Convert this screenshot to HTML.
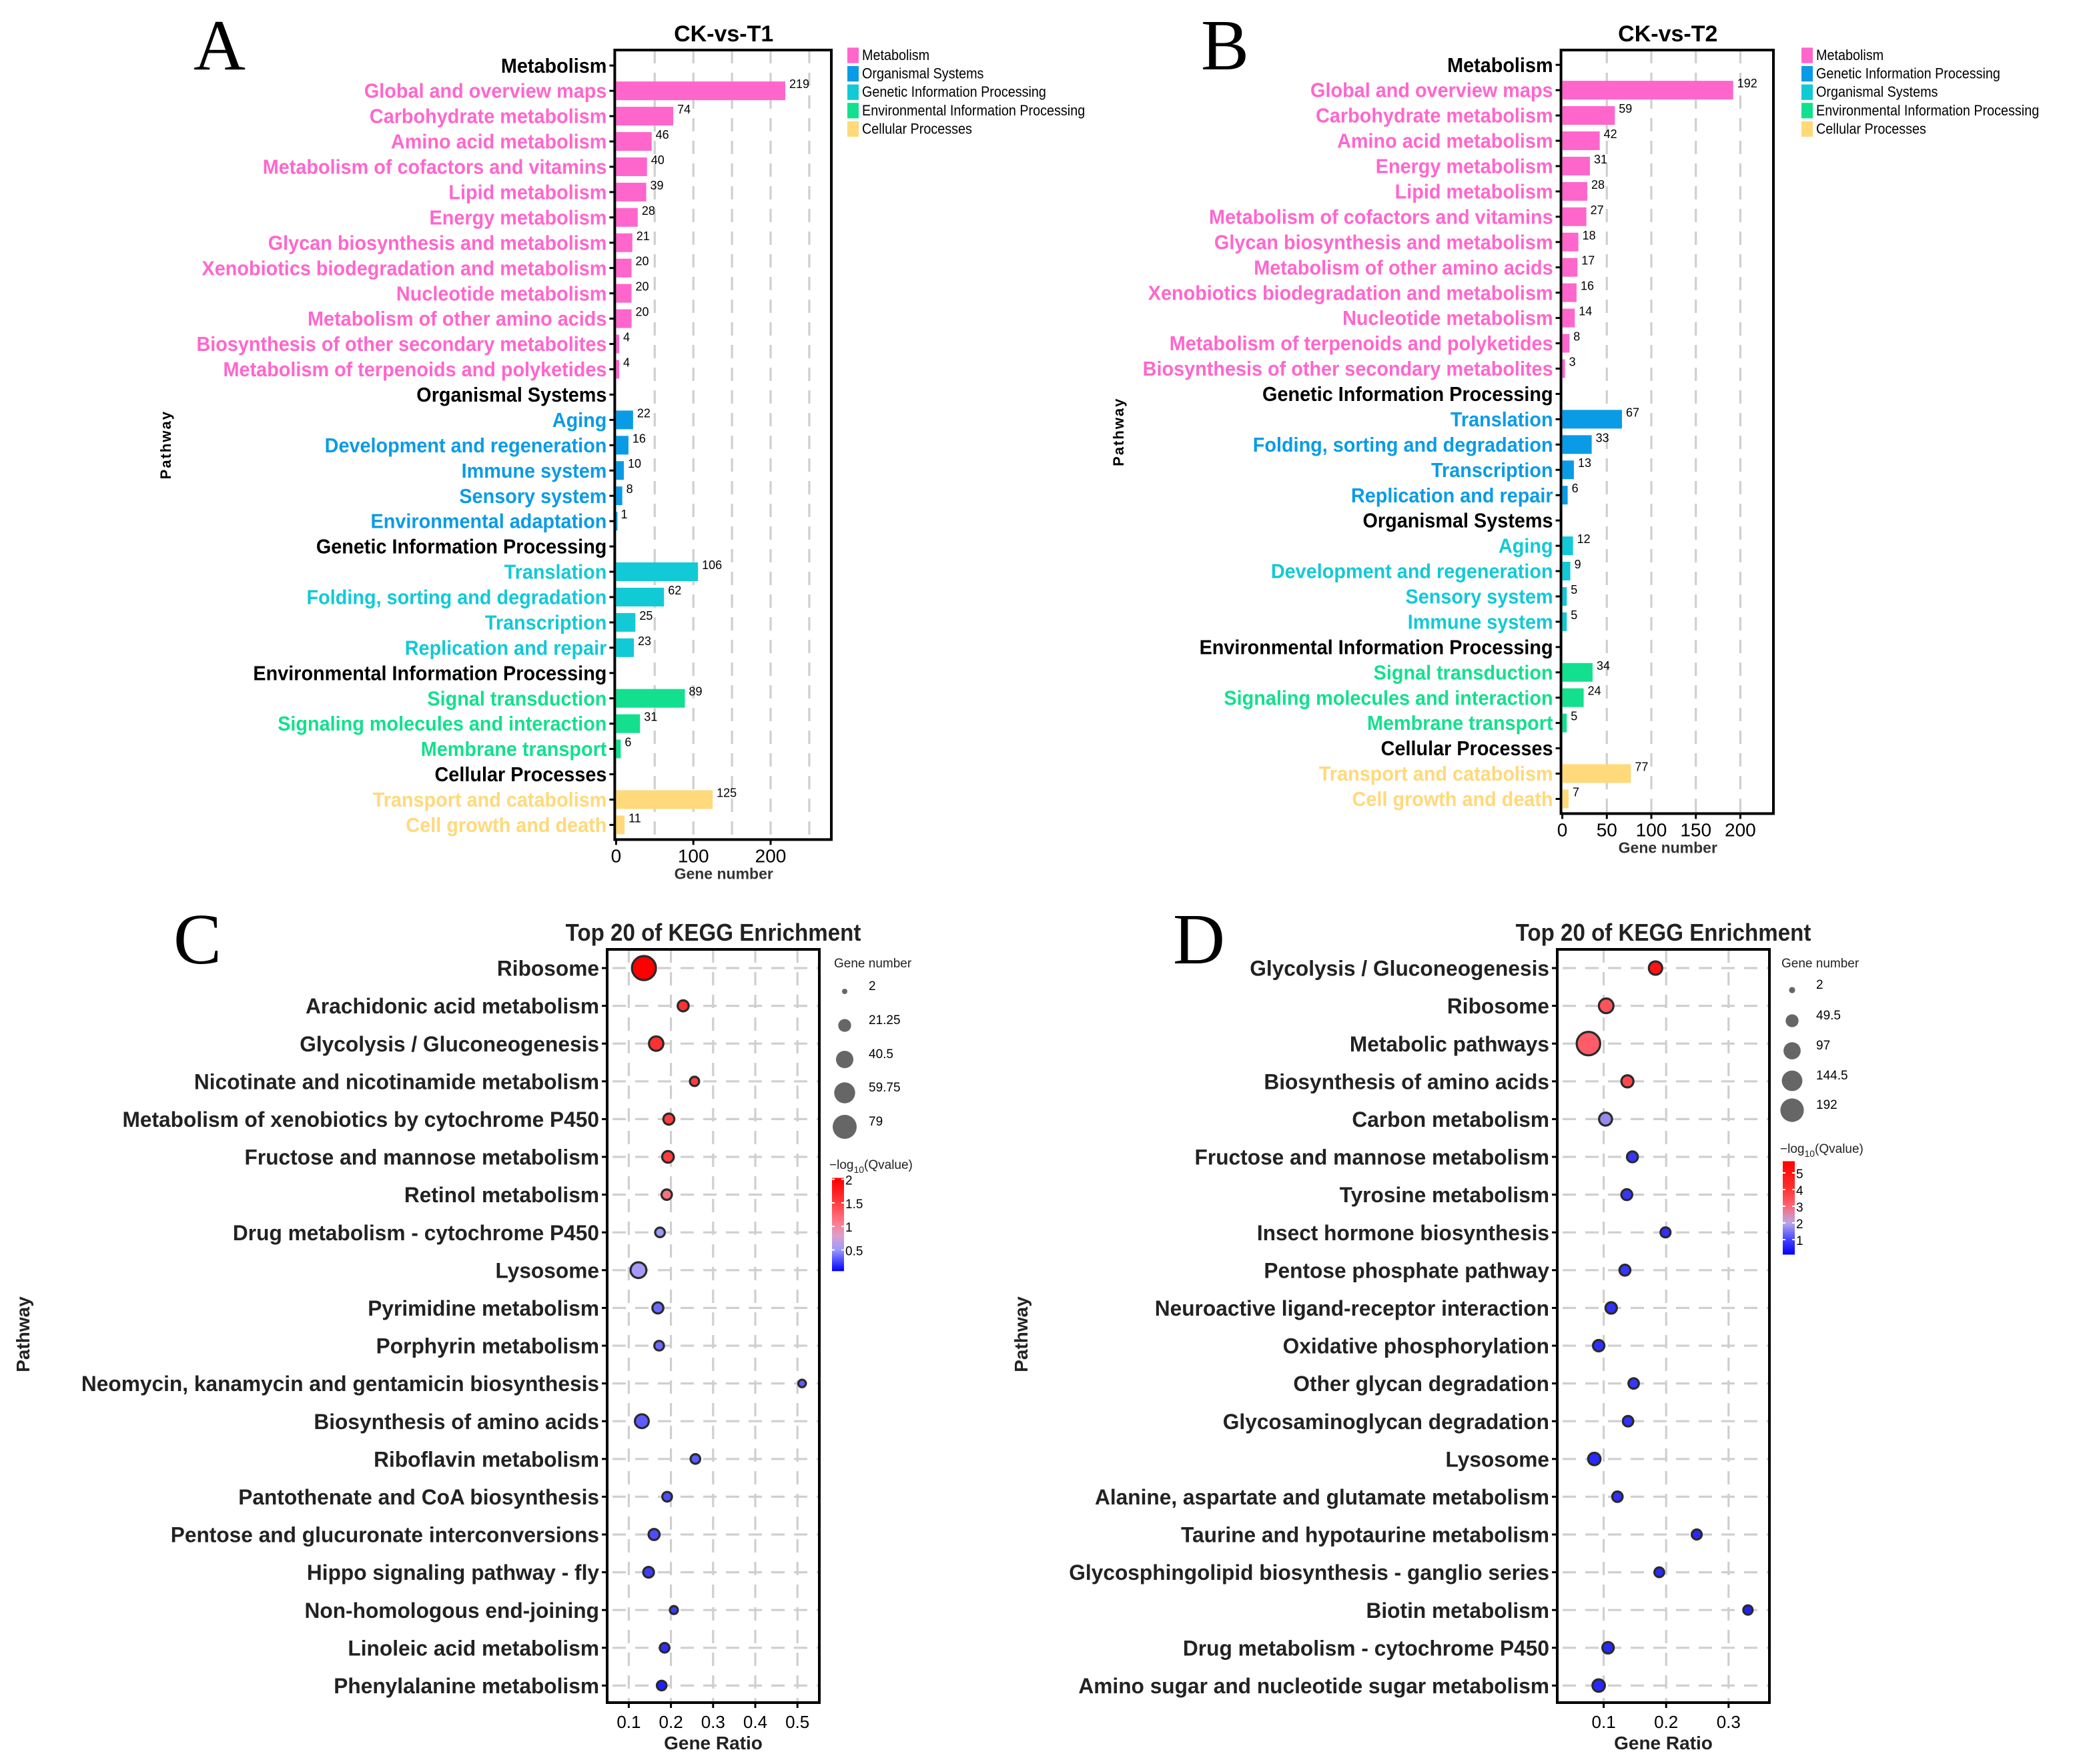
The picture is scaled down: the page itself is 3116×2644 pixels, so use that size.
<!DOCTYPE html>
<html><head><meta charset="utf-8"><style>
html,body{margin:0;padding:0;background:#fff;}
svg{display:block;}
text{font-family:"Liberation Sans",sans-serif;}
text.serif{font-family:"Liberation Serif",serif;}
</style></head><body>
<svg id="fig" xmlns="http://www.w3.org/2000/svg" width="3116" height="2644" viewBox="0 0 1558 1322"></svg>
<script>
// ---------- Panel A data ----------
const aLabels=["Metabolism","Global and overview maps","Carbohydrate metabolism","Amino acid metabolism","Metabolism of cofactors and vitamins","Lipid metabolism","Energy metabolism","Glycan biosynthesis and metabolism","Xenobiotics biodegradation and metabolism","Nucleotide metabolism","Metabolism of other amino acids","Biosynthesis of other secondary metabolites","Metabolism of terpenoids and polyketides","Organismal Systems","Aging","Development and regeneration","Immune system","Sensory system","Environmental adaptation","Genetic Information Processing","Translation","Folding, sorting and degradation","Transcription","Replication and repair","Environmental Information Processing","Signal transduction","Signaling molecules and interaction","Membrane transport","Cellular Processes","Transport and catabolism","Cell growth and death"];
const aValues=[null,219,74,46,40,39,28,21,20,20,20,4,4,null,22,16,10,8,1,null,106,62,25,23,null,89,31,6,null,125,11];
const aGroups=[0,0,0,0,0,0,0,0,0,0,0,0,0,1,1,1,1,1,1,2,2,2,2,2,3,3,3,3,4,4,4];
const aLegend=["Metabolism","Organismal Systems","Genetic Information Processing","Environmental Information Processing","Cellular Processes"];
const aTicks=[0,100,200];
// ---------- Panel B data ----------
const bLabels=["Metabolism","Global and overview maps","Carbohydrate metabolism","Amino acid metabolism","Energy metabolism","Lipid metabolism","Metabolism of cofactors and vitamins","Glycan biosynthesis and metabolism","Metabolism of other amino acids","Xenobiotics biodegradation and metabolism","Nucleotide metabolism","Metabolism of terpenoids and polyketides","Biosynthesis of other secondary metabolites","Genetic Information Processing","Translation","Folding, sorting and degradation","Transcription","Replication and repair","Organismal Systems","Aging","Development and regeneration","Sensory system","Immune system","Environmental Information Processing","Signal transduction","Signaling molecules and interaction","Membrane transport","Cellular Processes","Transport and catabolism","Cell growth and death"];
const bValues=[null,192,59,42,31,28,27,18,17,16,14,8,3,null,67,33,13,6,null,12,9,5,5,null,34,24,5,null,77,7];
const bGroups=[0,0,0,0,0,0,0,0,0,0,0,0,0,1,1,1,1,1,2,2,2,2,2,3,3,3,3,4,4,4];
const bLegend=["Metabolism","Genetic Information Processing","Organismal Systems","Environmental Information Processing","Cellular Processes"];
const bTicks=[0,50,100,150,200];
// ---------- Panel C data ----------
const cLabels=["Ribosome","Arachidonic acid metabolism","Glycolysis / Gluconeogenesis","Nicotinate and nicotinamide metabolism","Metabolism of xenobiotics by cytochrome P450","Fructose and mannose metabolism","Retinol metabolism","Drug metabolism - cytochrome P450","Lysosome","Pyrimidine metabolism","Porphyrin metabolism","Neomycin, kanamycin and gentamicin biosynthesis","Biosynthesis of amino acids","Riboflavin metabolism","Pantothenate and CoA biosynthesis","Pentose and glucuronate interconversions","Hippo signaling pathway - fly","Non-homologous end-joining","Linoleic acid metabolism","Phenylalanine metabolism"];
const cRatio=[0.136,0.229,0.165,0.256,0.195,0.193,0.19,0.174,0.123,0.169,0.172,0.511,0.131,0.258,0.191,0.16,0.147,0.207,0.185,0.178];
const cCount=[79,15,27,10,15,17,13,11,33,15,11,6,25,11,11,15,14,7,11,11];
const cQ=[2.0,1.6,1.6,1.5,1.5,1.5,1.15,0.5,0.55,0.35,0.35,0.3,0.3,0.3,0.25,0.25,0.2,0.2,0.15,0.1];
const cTicks=[0.1,0.2,0.3,0.4,0.5];
const cSizeLegend=[2,21.25,40.5,59.75,79];
const cColorTicks=[2,1.5,1,0.5];
// ---------- Panel D data ----------
const dLabels=["Glycolysis / Gluconeogenesis","Ribosome","Metabolic pathways","Biosynthesis of amino acids","Carbon metabolism","Fructose and mannose metabolism","Tyrosine metabolism","Insect hormone biosynthesis","Pentose phosphate pathway","Neuroactive ligand-receptor interaction","Oxidative phosphorylation","Other glycan degradation","Glycosaminoglycan degradation","Lysosome","Alanine, aspartate and glutamate metabolism","Taurine and hypotaurine metabolism","Glycosphingolipid biosynthesis - ganglio series","Biotin metabolism","Drug metabolism - cytochrome P450","Amino sugar and nucleotide sugar metabolism"];
const dRatio=[0.183,0.104,0.0756,0.138,0.103,0.146,0.137,0.199,0.134,0.112,0.092,0.148,0.139,0.085,0.122,0.249,0.189,0.331,0.107,0.092];
const dCount=[54,67,192,42,50,32,32,25,32,36,36,28,28,45,28,25,23,20,36,45];
const dQ=[5.0,3.4,3.2,3.6,1.7,0.8,0.8,0.7,0.8,0.7,0.7,0.8,0.7,0.6,0.7,0.6,0.6,0.5,0.6,0.6];
const dTicks=[0.1,0.2,0.3];
const dSizeLegend=[2,49.5,97,144.5,192];
const dColorTicks=[5,4,3,2,1];

const NS="http://www.w3.org/2000/svg";
const svg=document.getElementById('fig');
function mk(tag,attrs,parent){const e=document.createElementNS(NS,tag);for(const k in attrs)e.setAttribute(k,attrs[k]);(parent||svg).appendChild(e);return e;}
function txt(str,attrs,parent){const e=mk('text',attrs,parent);e.textContent=str;return e;}
const barColors=["#FF66CC","#0A9BE6","#12C9D6","#12E08E","#FFD97A"];
const grid="#cfcfcf";

function barPanel(p){
  const g=mk('g',{});
  
  
  const x=v=>p.x0+v*p.k;
  const y=i=>p.y0+i*18.97;
  const bottom=y(p.labels.length-1)+11;
  for(let v=p.gstep;x(v)<p.right-2;v+=p.gstep){
    const l=mk('line',{x1:x(v),x2:x(v),y1:p.top,y2:bottom,stroke:grid,'stroke-width':1.6,'stroke-dasharray':'10 7'},g);
    
    
  }
  const box=mk('rect',{x:p.x0-1,y:p.top,width:p.right-p.x0+1,height:bottom-p.top,fill:'none',stroke:'#000','stroke-width':2},g);
  
  
  p.labels.forEach((lab,i)=>{
    const hdr=p.values[i]===null;
    const col=hdr?'#000':barColors[p.groups[i]];
    const tg=mk('g',{transform:`translate(${p.x0-7},${y(i)+5.3}) scale(0.93,1)`},g);
    const t=txt(lab,{x:0,y:0,'text-anchor':'end','font-size':15.5,'font-weight':'bold',fill:col},tg);
    
    
    mk('line',{x1:p.x0-5,x2:p.x0-1,y1:y(i),y2:y(i),stroke:'#000','stroke-width':1.5},g);
    if(!hdr){
      const v=p.values[i];
      const r=mk('rect',{x:p.x0,y:y(i)-7,width:Math.max(v*p.k,1),height:14,fill:col},g);
      
      
      const vt=txt(String(v),{x:x(v)+3,y:y(i)-2,'font-size':9,fill:'#000'},g);
      
      
    }
  });
  p.ticks.forEach(v=>{
    mk('line',{x1:x(v),x2:x(v),y1:bottom,y2:bottom+4,stroke:'#000','stroke-width':1.5},g);
    const t=txt(String(v),{x:x(v),y:bottom+17,'text-anchor':'middle','font-size':14,fill:'#000'},g);
    
    
  });
  const xt=txt('Gene number',{x:(p.x0+p.right)/2,y:bottom+29.5,'text-anchor':'middle','font-size':11.5,'font-weight':'bold',fill:'#333'},g);
  
  
  const ti=txt(p.title,{x:(p.x0+p.right)/2,y:31,'text-anchor':'middle','font-size':17,'font-weight':'bold'},g);
  
  
  const yt=txt('Pathway',{x:0,y:0,'text-anchor':'middle','font-size':11,'font-weight':'bold','letter-spacing':1,transform:`translate(${p.ytx},${(p.top+bottom)/2}) rotate(-90)`},g);
  
  
  const L=txt(p.letter,{x:p.lx,y:52,'font-size':54,'class':'serif'},g);
  
  
  p.legend.forEach((s,i)=>{
    const r=mk('rect',{x:p.legx,y:35.7+i*13.8,width:8.5,height:11.6,fill:barColors[i]},g);
    
    
    const lg=mk('g',{transform:`translate(${p.legx+11},${45+i*13.8}) scale(0.9,1)`},g);
    const t=txt(s,{x:0,y:0,'font-size':11},lg);
    
    
  });
}
barPanel({name:'panel-a-bar-chart',labels:aLabels,values:aValues,groups:aGroups,legend:aLegend,ticks:aTicks,x0:461.7,k:0.579,right:623,top:37.5,y0:49.1,gstep:50,title:'CK-vs-T1',letter:'A',lx:145,legx:635,ytx:128});
barPanel({name:'panel-b-bar-chart',labels:bLabels,values:bValues,groups:bGroups,legend:bLegend,ticks:bTicks,x0:1170.8,k:0.667,right:1329,top:37.5,y0:48.6,gstep:50,title:'CK-vs-T2',letter:'B',lx:900,legx:1350,ytx:842});

function lerp(a,b,t){return a+(b-a)*t;}
function hex(c){return [parseInt(c.slice(1,3),16),parseInt(c.slice(3,5),16),parseInt(c.slice(5,7),16)];}
function colorFor(v,stops){
  for(let i=0;i<stops.length-1;i++){
    const [v0,c0]=stops[i],[v1,c1]=stops[i+1];
    if(v<=v1||i===stops.length-2){
      const t=Math.max(0,Math.min(1,(v-v0)/(v1-v0)));
      const a=hex(c0),b=hex(c1);
      return `rgb(${Math.round(lerp(a[0],b[0],t))},${Math.round(lerp(a[1],b[1],t))},${Math.round(lerp(a[2],b[2],t))})`;
    }
  }
}
function dotPanel(p){
  const g=mk('g',{});
  
  
  const top=711.5,bottom=1276;
  const x=v=>p.x01+(v-0.1)*p.k;
  const y=i=>725.5+i*28.3;
  const nmin=p.size[0],nmax=p.size[p.size.length-1];
  const rad=n=>Math.sqrt(p.rmin*p.rmin+(n-nmin)/(nmax-nmin)*(p.rmax*p.rmax-p.rmin*p.rmin));
  p.labels.forEach((lab,i)=>{
    const l=mk('line',{x1:p.left,x2:p.right,y1:y(i),y2:y(i),stroke:grid,'stroke-width':1.6,'stroke-dasharray':'10 7','stroke-dashoffset':-4},g);
    
    
  });
  p.ticks.forEach(v=>{
    const l=mk('line',{x1:x(v),x2:x(v),y1:top,y2:bottom,stroke:grid,'stroke-width':1.6,'stroke-dasharray':'10 7'},g);
    
    
    mk('line',{x1:x(v),x2:x(v),y1:bottom,y2:bottom+4,stroke:'#000','stroke-width':1.5},g);
    const t=txt(String(v),{x:x(v),y:bottom+19,'text-anchor':'middle','font-size':13},g);
    
    
  });
  const box=mk('rect',{x:p.left,y:top,width:p.right-p.left,height:bottom-top,fill:'none',stroke:'#000','stroke-width':2},g);
  
  
  p.labels.forEach((lab,i)=>{
    const tg=mk('g',{transform:`translate(${p.left-6},${y(i)+5.8}) scale(0.99,1)`},g);
    const t=txt(lab,{x:0,y:0,'text-anchor':'end','font-size':16,'font-weight':'bold',fill:'#222'},tg);
    
    
    mk('line',{x1:p.left-4,x2:p.left,y1:y(i),y2:y(i),stroke:'#000','stroke-width':1.5},g);
  });
  p.labels.forEach((lab,i)=>{
    const c=mk('circle',{cx:x(p.ratio[i]),cy:y(i),r:rad(p.count[i]),fill:colorFor(p.q[i],p.stops),stroke:'#2a2a2a','stroke-width':1.6},g);
    
    
  });
  const ti=txt('Top 20 of KEGG Enrichment',{x:0,y:0,'text-anchor':'middle','font-size':18,'font-weight':'bold',fill:'#222',transform:`translate(${(p.left+p.right)/2},705) scale(0.92,1)`},g);
  
  
  const xt=txt('Gene Ratio',{x:(p.left+p.right)/2,y:bottom+35,'text-anchor':'middle','font-size':14,'font-weight':'bold',fill:'#222'},g);
  
  
  const yt=txt('Pathway',{x:0,y:0,'text-anchor':'middle','font-size':14,'font-weight':'bold',fill:'#222',transform:`translate(${p.ytx},1000) rotate(-90)`},g);
  
  
  const L=txt(p.letter,{x:p.lx,y:722,'font-size':54,'class':'serif'},g);
  
  
  const st=txt('Gene number',{x:p.legx-8,y:725,'font-size':9.5,fill:'#222'},g);
  
  
  p.size.forEach((n,i)=>{
    const cy=p.sizeY[i];
    const c=mk('circle',{cx:p.legx,cy:cy,r:rad(n),fill:'#666'},g);
    
    
    const t=txt(String(n),{x:p.legx+18,y:cy-1,'font-size':9.5},g);
    
    
  });
  const ct=txt('',{x:p.cbx-2,y:p.cbTitleY,'font-size':9.5,fill:'#222'},g);
  
  
  const s1=mk('tspan',{},ct);s1.textContent='\u2212log';
  const s2=mk('tspan',{dy:3,'font-size':7},ct);s2.textContent='10';
  const s3=mk('tspan',{dy:-3},ct);s3.textContent='(Qvalue)';
  const gid='grad'+p.letter;
  const defs=mk('defs',{},g);
  const lg=mk('linearGradient',{id:gid,x1:0,y1:1,x2:0,y2:0},defs);
  const vmin=p.cbMin,vmax=p.cbMax;
  p.stops.forEach(([v,c])=>{mk('stop',{offset:Math.max(0,Math.min(1,(v-vmin)/(vmax-vmin))),'stop-color':c},lg);});
  const cyv=v=>p.cbZero-v*p.cbK;
  const cb=mk('rect',{x:p.cbx,y:cyv(vmax),width:9,height:cyv(vmin)-cyv(vmax),fill:`url(#${gid})`},g);
  
  
  p.cticks.forEach(v=>{
    mk('line',{x1:p.cbx,x2:p.cbx+2,y1:cyv(v),y2:cyv(v),stroke:'#fff','stroke-width':1},g);
    mk('line',{x1:p.cbx+7,x2:p.cbx+9,y1:cyv(v),y2:cyv(v),stroke:'#fff','stroke-width':1},g);
    const t=txt(String(v),{x:p.cbx+10,y:cyv(v)+4,'font-size':9.5},g);
    
    
  });
}
dotPanel({name:'panel-c-dot-plot',labels:cLabels,ratio:cRatio,count:cCount,q:cQ,ticks:cTicks,size:cSizeLegend,cticks:cColorTicks,
  x01:471.2,k:316,left:455,right:614,rmin:2,rmax:9,letter:'C',lx:130,ytx:22,legx:633,sizeY:[743,768.5,794,819,844.5],
  cbx:623.5,cbTitleY:876,cbZero:954.4,cbK:35.3,cbMin:0.05,cbMax:2.03,
  stops:[[0,'#0000FF'],[0.5,'#9999FF'],[0.8,'#DDA0CC'],[1.1,'#FF7788'],[1.6,'#FF3030'],[2,'#FF0000']]});
dotPanel({name:'panel-d-dot-plot',labels:dLabels,ratio:dRatio,count:dCount,q:dQ,ticks:dTicks,size:dSizeLegend,cticks:dColorTicks,
  x01:1201.8,k:468,left:1167,right:1326,rmin:2.3,rmax:8.8,letter:'D',lx:879,ytx:770,legx:1343,sizeY:[742,765,787.5,810,832],
  cbx:1336,cbTitleY:864,cbZero:941.5,cbK:12.5,cbMin:0.1,cbMax:5.7,
  stops:[[0,'#0000FF'],[1,'#4444FF'],[2,'#B8A8E8'],[3,'#FF6677'],[4,'#FF3333'],[5.7,'#FF0000']]});
</script>
</body></html>
